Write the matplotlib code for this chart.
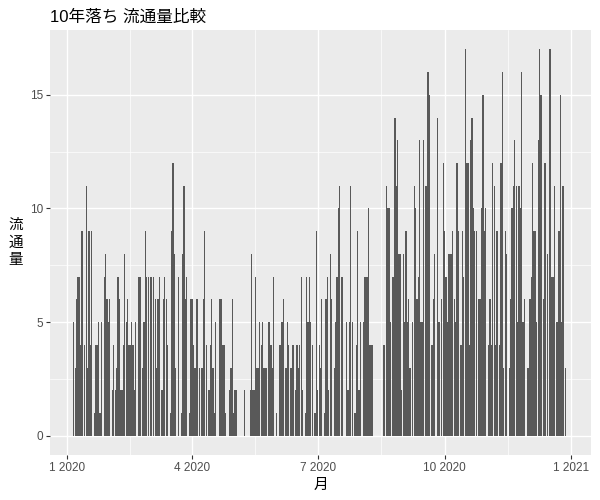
import numpy as np
import pandas as pd
import matplotlib
matplotlib.use("Agg")
import matplotlib.pyplot as plt
import matplotlib.dates as mdates

# daily counts, 2020 (0 = no record that day)
jan = [0, 0, 0, 0, 0, 5, 3, 6, 7, 7, 4, 9, 0, 4, 11, 3, 9, 4, 9, 0, 1, 4, 4, 5, 1, 5, 0, 7, 8, 6, 5]
feb = [6, 0, 2, 4, 2, 3, 7, 6, 2, 2, 4, 8, 5, 6, 4, 4, 5, 4, 2, 5, 0, 7, 7, 0, 3, 5, 9, 7, 7]
mar = [0, 7, 0, 7, 6, 3, 6, 7, 0, 2, 6, 7, 6, 4, 0, 1, 9, 12, 8, 3, 0, 7, 0, 1, 8, 11, 6, 7, 0, 1, 6]
apr = [6, 4, 3, 6, 6, 3, 0, 3, 6, 9, 4, 0, 2, 4, 6, 3, 1, 5, 0, 0, 6, 6, 4, 4, 1, 0, 0, 2, 3, 6]
may = [1, 2, 2, 0, 0, 0, 0, 0, 2, 0, 0, 0, 2, 8, 2, 2, 7, 3, 3, 5, 4, 5, 3, 3, 3, 5, 5, 4, 3, 7, 0]
jun = [1, 0, 4, 4, 5, 6, 0, 3, 5, 4, 3, 3, 4, 0, 2, 4, 3, 4, 7, 2, 0, 1, 7, 5, 7, 5, 4, 0, 1, 9]
jul = [2, 4, 3, 6, 0, 1, 6, 7, 2, 8, 6, 0, 3, 5, 7, 10, 11, 7, 7, 0, 0, 5, 2, 5, 11, 5, 0, 1, 4, 9, 2]
aug = [5, 0, 5, 7, 7, 7, 10, 4, 4, 4, 0, 0, 0, 0, 0, 0, 0, 4, 0, 11, 10, 10, 5, 7, 7, 14, 11, 13, 8, 8, 2]
sep = [8, 5, 9, 5, 6, 3, 0, 5, 11, 10, 6, 7, 13, 5, 5, 13, 11, 11, 16, 15, 0, 4, 6, 8, 0, 14, 5, 0, 6, 12]
oct_ = [9, 7, 5, 8, 8, 8, 9, 6, 5, 12, 9, 0, 4, 9, 7, 17, 12, 12, 4, 13, 14, 10, 9, 9, 0, 6, 6, 10, 15, 9, 10]
nov = [0, 4, 6, 4, 12, 11, 4, 9, 0, 4, 12, 16, 3, 9, 8, 0, 3, 6, 10, 11, 13, 11, 5, 11, 10, 16, 5, 6, 0, 3]
dec = [3, 6, 7, 12, 9, 9, 5, 13, 17, 15, 0, 6, 12, 0, 8, 17, 17, 7, 7, 11, 5, 5, 9, 15, 5, 11, 0, 3, 0, 0, 0]

counts = jan + feb + mar + apr + may + jun + jul + aug + sep + oct_ + nov + dec
dates = pd.date_range("2020-01-01", periods=len(counts), freq="D")
df = pd.DataFrame({"date": dates, "n": counts})
df = df[df["n"] > 0]

plt.rcParams["font.family"] = ["Liberation Sans", "Noto Sans CJK JP", "DejaVu Sans"]

fig = plt.figure(figsize=(6, 5), dpi=100)
ax = fig.add_axes([50 / 600, 45 / 500, 541 / 600, 425 / 500])
ax.set_facecolor("#EBEBEB")

ax.bar(mdates.date2num(df["date"]), df["n"], width=0.9, color="#595959", linewidth=0, zorder=3)

x0 = mdates.date2num(pd.Timestamp("2020-01-01"))
ax.set_xlim(x0 - 12.3, x0 + 380.3)
ax.set_ylim(-0.85, 17.85)

major = pd.to_datetime(["2020-01-01", "2020-04-01", "2020-07-01", "2020-10-01", "2021-01-01"])
major_num = mdates.date2num(major)
ax.set_xticks(major_num)
ax.set_xticklabels([f"{d.month} {d.year}" for d in major])
ax.set_xticks((major_num[:-1] + major_num[1:]) / 2, minor=True)
ax.set_yticks([0, 5, 10, 15])
ax.set_yticks([2.5, 7.5, 12.5], minor=True)

ax.grid(which="major", color="white", linewidth=1.0, zorder=0)
ax.grid(which="minor", color="white", linewidth=0.5, zorder=0)
ax.set_axisbelow(True)
for s in ax.spines.values():
    s.set_visible(False)
ax.tick_params(which="major", length=3, width=0.8, color="#333333", labelcolor="#4D4D4D", labelsize=8.5, pad=2)
ax.tick_params(which="minor", length=0)

ax.set_xlabel("月", fontsize=10.5, labelpad=3)
ax.set_ylabel("流\n通\n量", rotation=0, fontsize=10.5, va="center", ha="center", labelpad=10, linespacing=1.3)
ax.set_title("10年落ち 流通量比較", loc="left", fontsize=12, pad=6)

fig.savefig("out.png", dpi=100)
